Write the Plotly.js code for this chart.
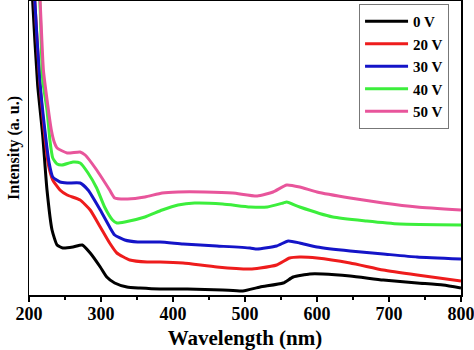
<!DOCTYPE html>
<html>
<head>
<meta charset="utf-8">
<script src="https://cdn.plot.ly/plotly-3.0.1.min.js"></script>
<style>html,body{margin:0;padding:0;background:#fff;}#chart{width:474px;height:350px;}</style>
</head>
<body>
<div id="chart"></div>
<script>
// Series names
const seriesNames = ["0 V", "20 V", "30 V", "40 V", "50 V"];
const xTickVals = [200, 300, 400, 500, 600, 700, 800];

// 0 V
const wl0 = [200,205,212,219,225,232,239,247,261,274,285,299,308,319,336,354,382,420,469,497,521,553,567,590,608,646,692,739,775,800];
const int0 = [400,295,210,160,105,65,50,47,48,50,42,28,18,12,8,7,6,6,5,4,8,12,18,21,21,19,15,12,10,7];
// 20 V
const wl20 = [200,208,215,221,227,233,243,253,271,285,299,312,322,340,364,382,414,461,507,521,544,562,576,600,646,692,739,800];
const int20 = [460,295,212,165,130,115,105,100,95,85,68,52,42,35,33,33,32,28,26,27,30,37,38,37,32,25,20,14];
// 30 V
const wl30 = [200,208,215,222,228,233,243,253,271,282,299,312,319,333,351,382,414,461,507,517,544,560,576,600,646,692,739,800];
const int30 = [460,295,215,165,132,118,113,112,112,105,85,68,60,55,53,53,51,49,47,46,49,54,52,48,44,41,38,36];
// 40 V
const wl40 = [200,210,215,219,225,229,233,239,246,261,271,282,294,305,316,322,333,361,385,407,430,469,507,531,553,558,576,622,669,715,800];
const int40 = [500,340,295,215,185,155,137,131,130,133,132,122,107,88,75,72,73,78,85,90,92,91,88,88,92,93,88,78,74,71,70];
// 50 V
const wl50 = [200,210,215,220,226,231,235,239,253,271,278,294,312,319,337,361,385,407,444,483,517,539,558,576,600,646,692,739,800];
const int50 = [500,345,300,225,190,165,153,147,142,143,140,125,105,97,96,98,102,103,103,102,99,103,110,108,103,97,92,88,85];

const colors = ["#000000", "#ee1c1c", "#1414c8", "#3cee3c", "#e8559b"];
const xs = [wl0, wl20, wl30, wl40, wl50];
const ys = [int0, int20, int30, int40, int50];

const serif = "Liberation Serif, Times New Roman, serif";
const traces = xs.map((x, i) => ({
  x: x, y: ys[i], name: seriesNames[i], type: "scatter", mode: "lines",
  line: {color: colors[i], width: 3, shape: "spline", smoothing: 0.5}
}));

const layout = {
  width: 474, height: 350,
  margin: {l: 29, r: 13, t: 1, b: 55},
  paper_bgcolor: "#ffffff", plot_bgcolor: "#ffffff",
  showlegend: true,
  legend: {
    x: 0.764, y: 0.99, xanchor: "left", yanchor: "top",
    bordercolor: "#777777", borderwidth: 1, bgcolor: "#ffffff",
    font: {family: serif, size: 15, color: "#000", weight: "bold"},
    itemwidth: 43, tracegroupgap: 0
  },
  xaxis: {
    range: [200, 800], tickvals: xTickVals, ticktext: xTickVals.map(String),
    ticks: "outside", ticklen: 5, tickwidth: 1.5, tickcolor: "#000",
    ticklabelstandoff: -3, ticklabeloverflow: "allow",
    minor: {dtick: 50, tick0: 200, ticks: "outside", ticklen: 3, tickwidth: 1.2, tickcolor: "#000", showgrid: false},
    showline: true, linecolor: "#000", linewidth: 1.5, mirror: true,
    showgrid: false, zeroline: false,
    tickfont: {family: serif, size: 18, color: "#000", weight: "bold"},
    title: {text: "Wavelength (nm)", font: {family: serif, size: 21, color: "#000", weight: "bold"}, standoff: 10},
    automargin: false
  },
  yaxis: {
    range: [0, 294],
    showticklabels: false, ticks: "",
    showline: true, linecolor: "#000", linewidth: 1.5, mirror: true,
    showgrid: false, zeroline: false,
    title: {text: "Intensity (a. u.)", font: {family: serif, size: 16, color: "#000", weight: "bold"}, standoff: 4},
    automargin: false
  }
};

Plotly.newPlot("chart", traces, layout, {displayModeBar: false, staticPlot: true});
</script>
</body>
</html>
